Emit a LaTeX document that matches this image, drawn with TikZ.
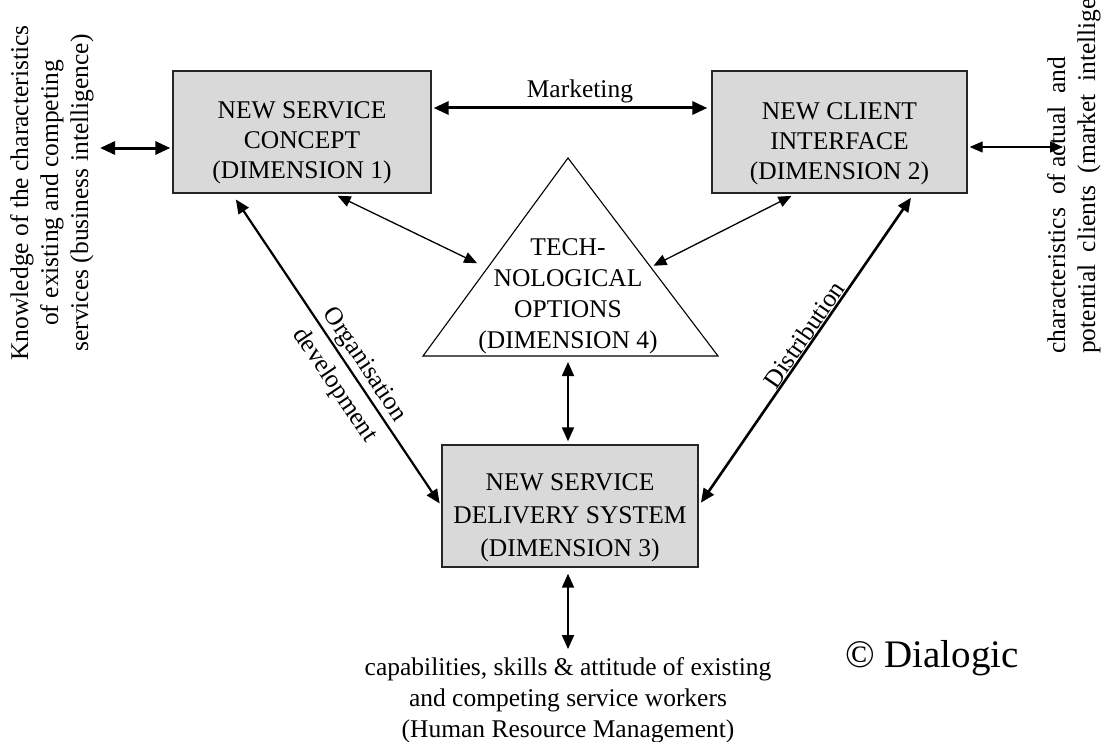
\documentclass[tikz,border=0pt]{standalone}
\usepackage{fontspec}
\setmainfont{Liberation Serif}
\usetikzlibrary{arrows.meta,calc}
\begin{document}
\begin{tikzpicture}[x=1pt,y=-1pt,
  dimbox/.style={draw=black!85, line width=1.3pt, fill=black!15, inner sep=0pt},
  lbl/.style={font=\fontsize{25.5}{30}\selectfont, align=center, inner sep=0pt},
  bigarr/.style={line width=3pt, {Triangle[length=15pt,width=13pt]}-{Triangle[length=15pt,width=13pt]}},
  midarr/.style={line width=2.2pt, {Triangle[length=14pt,width=12pt]}-{Triangle[length=14pt,width=12pt]}},
  thinarr/.style={line width=1.3pt, {Triangle[length=13pt,width=11pt]}-{Triangle[length=13pt,width=11pt]}}
]
\useasboundingbox (0,0) rectangle (1110,741);
\clip (0,0) rectangle (1110,741);
\fill[white] (0,0) rectangle (1110,741);

% boxes
\node[dimbox, minimum width=258pt, minimum height=122pt] (b1) at (302,132) {};
\node[lbl] (t1) at (302,143) {NEW SERVICE\\CONCEPT\\(DIMENSION 1)};
\node[dimbox, minimum width=255pt, minimum height=122pt] (b2) at (839.5,132) {};
\node[lbl] (t2) at (839.5,144) {NEW CLIENT\\INTERFACE\\(DIMENSION 2)};
\node[dimbox, minimum width=256pt, minimum height=122pt] (b3) at (570,506) {};
\node[lbl, font=\fontsize{25.5}{33}\selectfont] (t3) at (570,518) {NEW SERVICE\\DELIVERY SYSTEM\\(DIMENSION 3)};

% triangle
\coordinate (tA) at (568,158);
\coordinate (tL) at (423,356);
\coordinate (tR) at (718,356);
\coordinate (tB) at (568,356);
\draw[line width=1.1pt, line join=miter] (tA) -- (tL) -- (tR) -- cycle;
\node[lbl, font=\fontsize{25.5}{31}\selectfont] (t4) at (568,296) {TECH-\\NOLOGICAL\\OPTIONS\\(DIMENSION 4)};
\coordinate (tLs) at (487,268);
\coordinate (tRs) at (649,268);

% outer texts
\node[lbl, rotate=90] (kn) at (52,193) {Knowledge of the characteristics\\of existing and competing\\services (business intelligence)};
\node[lbl, rotate=90, align=left, anchor=north west] (mk) at (1047,354) {characteristics\hspace{13pt}of actual\hspace{13pt}and\\potential\hspace{6pt} clients\hspace{6pt} (market\hspace{6pt} intelligence)};
\node[lbl, font=\fontsize{25.5}{31}\selectfont] (hr) at (568,700) {capabilities, skills \& attitude of existing\\and competing service workers\\(Human Resource Management)};
\node[inner sep=0pt, font=\fontsize{39}{44}\selectfont] (cp) at (932,658) {\textcopyright\ Dialogic};

% connectors
\coordinate (kL) at (100,148);
\coordinate (mR) at (1063,147);
\draw[bigarr, shorten >=2pt] (kL) -- (kL -| b1.west);
\draw[bigarr, shorten <=2pt, shorten >=4pt] (b1.east |- 0,108) -- node[lbl, above=3pt, pos=0.53] (mkt) {Marketing} (b2.west |- 0,108);
\draw[thinarr, shorten <=2pt] (b2.east |- mR) -- (mR);

\draw[thinarr, shorten <=5pt, shorten >=11pt] ($(b1.south west)!0.62!(b1.south east)$) -- (tLs);
\draw[thinarr, shorten <=5pt, shorten >=5pt] ($(b2.south west)!0.33!(b2.south east)$) -- (tRs);

\draw[midarr, shorten <=7pt, shorten >=3pt] ($(b1.south west)!0.23!(b1.south east)$)
  -- node[lbl, sloped, above=2pt, pos=0.575] (org) {Organisation}
     node[lbl, sloped, below=9pt, pos=0.575] (dev) {development} (b3.west);
\draw[midarr, line width=2.6pt, shorten <=5pt, shorten >=4pt] ($(b2.south west)!0.79!(b2.south east)$) -- node[lbl, sloped, above=0.5pt, pos=0.47] (dist) {Distribution} (b3.east);

\draw[midarr, line width=1.8pt, shorten <=6pt, shorten >=3pt] (tB) -- (tB |- b3.north);
\draw[midarr, line width=1.8pt, shorten <=6pt, shorten >=8pt] (tB |- b3.south) -- (tB |- hr.north);
\end{tikzpicture}
\end{document}
